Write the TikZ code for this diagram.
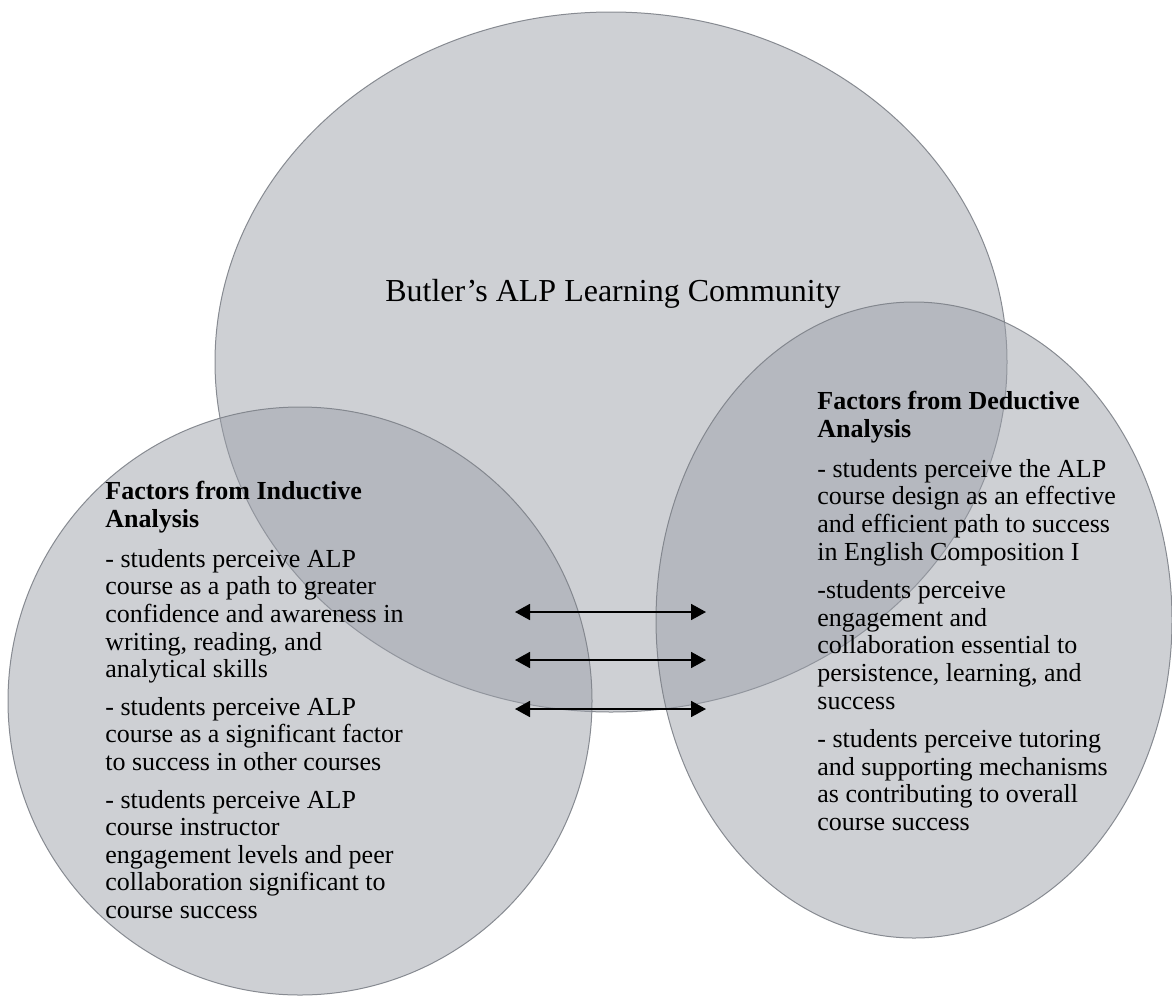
\documentclass[tikz,border=0pt]{standalone}
\usepackage{fontspec}
\setmainfont{Liberation Serif}
\usetikzlibrary{arrows.meta,shapes.geometric}
\definecolor{circfill}{RGB}{157,161,170}
\definecolor{circedge}{RGB}{125,129,136}
\tikzset{
  venn/.style={ellipse, inner sep=0pt, fill=circfill, fill opacity=0.5, draw=circedge, draw opacity=0.9, line width=0.5pt},
  factors/.style={anchor=north west, align=left, inner sep=0pt, font=\fontsize{13}{13.8}\selectfont},
  heading/.style={anchor=base, inner sep=0pt, font=\fontsize{16}{18}\selectfont},
  link/.style={{Triangle[length=7.5pt,width=8pt]}-{Triangle[length=7.5pt,width=8pt]}, line width=0.9pt, black}
}
\begin{document}
\begin{tikzpicture}[x=0.5pt,y=-0.5pt]
\useasboundingbox (0,0) rectangle (1172,996);
% circles
\node[venn, minimum width=396pt, minimum height=350pt] (community) at (611,362) {};
\node[venn, minimum width=292pt, minimum height=294pt] (inductive) at (300,701) {};
\node[venn, minimum width=258pt, minimum height=318pt] (deductive) at (914,620) {};
% heading
\node[heading] (title) at (613,301) {Butler's ALP Learning Community};
% left block
\node[factors] (indtext) at (105,481) {%
{\bfseries Factors from Inductive}\\
{\bfseries Analysis}\\[6.2pt]
- students perceive ALP\\
course as a path to greater\\
confidence and awareness in\\
writing, reading, and\\
analytical skills\\[5pt]
- students perceive ALP\\
course as a significant factor\\
to success in other courses\\[5pt]
- students perceive ALP\\
course instructor\\
engagement levels and peer\\
collaboration significant to\\
course success};
% right block
\node[factors] (dedtext) at (817,391) {%
{\bfseries Factors from Deductive}\\
{\bfseries Analysis}\\[6.2pt]
- students perceive the ALP\\
course design as an effective\\
and efficient path to success\\
in English Composition I\\[5.5pt]
-students perceive\\
engagement and\\
collaboration essential to\\
persistence, learning, and\\
success\\[5.5pt]
- students perceive tutoring\\
and supporting mechanisms\\
as contributing to overall\\
course success};
% arrows
\coordinate (a1w) at (515,612);
\coordinate (a1e) at (706,612);
\coordinate (a2w) at (515,660);
\coordinate (a2e) at (706,660);
\coordinate (a3w) at (515,709);
\coordinate (a3e) at (706,709);
\draw[link] (a1w) -- (a1e);
\draw[link] (a2w) -- (a2e);
\draw[link] (a3w) -- (a3e);
\end{tikzpicture}
\end{document}
